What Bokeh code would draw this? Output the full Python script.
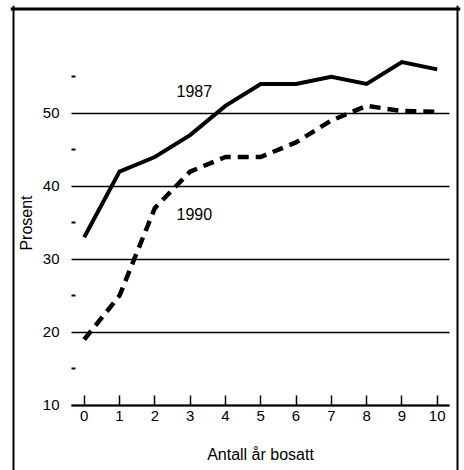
from bokeh.plotting import figure
from bokeh.models import Range1d, LinearAxis, FixedTicker, Span
from bokeh.core.properties import value
from bokeh.embed import file_html
from bokeh.resources import INLINE

# ---- data ----
years = [0, 1, 2, 3, 4, 5, 6, 7, 8, 9, 10]
share_1987 = [33, 42, 44, 47, 51, 54, 54, 55, 54, 57, 56]
share_1990 = [19, 25, 37, 42, 44, 44, 46, 49, 51, 50.3, 50.2]
series_names = ["1987", "1990"]
label_x = [3.12, 3.12]
label_y = [53.1, 36.2]
x_ticks = [0, 1, 2, 3, 4, 5, 6, 7, 8, 9, 10]
y_ticks = [10, 20, 30, 40, 50]
y_minor_ticks = [15, 25, 35, 45, 55]

FONT = "Liberation Sans"

# ranges (frame is slightly larger than the drawn outer box)
XMIN, XMAX = -2.088, 10.660
YMIN, YMAX = 1.055, 64.75
BOX_LEFT, BOX_RIGHT, BOX_TOP = -2.003, 10.575, 64.27

p = figure(width=464, height=470, output_backend="svg", toolbar_location=None,
           x_range=Range1d(XMIN, XMAX), y_range=Range1d(YMIN, YMAX),
           x_axis_location=None, y_axis_location=None,
           min_border_left=10, min_border_right=4, min_border_top=5, min_border_bottom=0)
p.outline_line_color = None
p.background_fill_color = "white"
p.border_fill_color = "white"
p.xgrid.visible = False
p.ygrid.visible = False

# x axis placed at y = 10
xa = LinearAxis(fixed_location=10, bounds=(-0.36, 10.35),
                ticker=FixedTicker(ticks=x_ticks, minor_ticks=[]))
xa.axis_line_width = 2
xa.axis_line_color = "black"
xa.major_tick_in = 10
xa.major_tick_out = 0
xa.major_tick_line_width = 1.5
xa.major_label_standoff = 6
xa.major_label_text_font = FONT
xa.major_label_text_font_size = "15px"
xa.major_label_text_color = "black"
xa.axis_label = "Antall år bosatt"
xa.axis_label_text_font = FONT
xa.axis_label_text_font_size = "16px"
xa.axis_label_text_font_style = "normal"
xa.axis_label_text_color = "black"
xa.axis_label_standoff = 21
p.add_layout(xa, "below")

# y axis, with major ticks drawn across as grid lines
ya = LinearAxis(fixed_location=-0.36, bounds=(10, 60),
                ticker=FixedTicker(ticks=y_ticks, minor_ticks=y_minor_ticks))
ya.axis_line_color = None
ya.major_tick_in = 378
ya.major_tick_out = 0
ya.major_tick_line_width = 1.5
ya.minor_tick_in = 4
ya.minor_tick_out = 0
ya.minor_tick_line_width = 2
ya.major_label_standoff = 12
ya.major_label_text_font = FONT
ya.major_label_text_font_size = "15px"
ya.major_label_text_color = "black"
ya.axis_label = "Prosent"
ya.axis_label_text_font = FONT
ya.axis_label_text_font_size = "16px"
ya.axis_label_text_font_style = "normal"
ya.axis_label_text_color = "black"
ya.axis_label_standoff = 5
p.add_layout(ya, "left")

# outer box (left, right, top)
p.add_layout(Span(location=BOX_LEFT, dimension="height", line_color="black", line_width=2))
p.add_layout(Span(location=BOX_RIGHT, dimension="height", line_color="black", line_width=2))
p.add_layout(Span(location=BOX_TOP, dimension="width", line_color="black", line_width=3))

# series
p.line(years, share_1987, line_color="black", line_width=4, line_join="miter")
p.line(years, share_1990, line_color="black", line_width=4.5, line_dash="11 7")

p.text(x=label_x, y=label_y, text=series_names, text_align="center",
       text_baseline="middle", text_font=value(FONT), text_font_size="16px",
       text_color="black")

open("out.html", "w").write(file_html(p, INLINE))
